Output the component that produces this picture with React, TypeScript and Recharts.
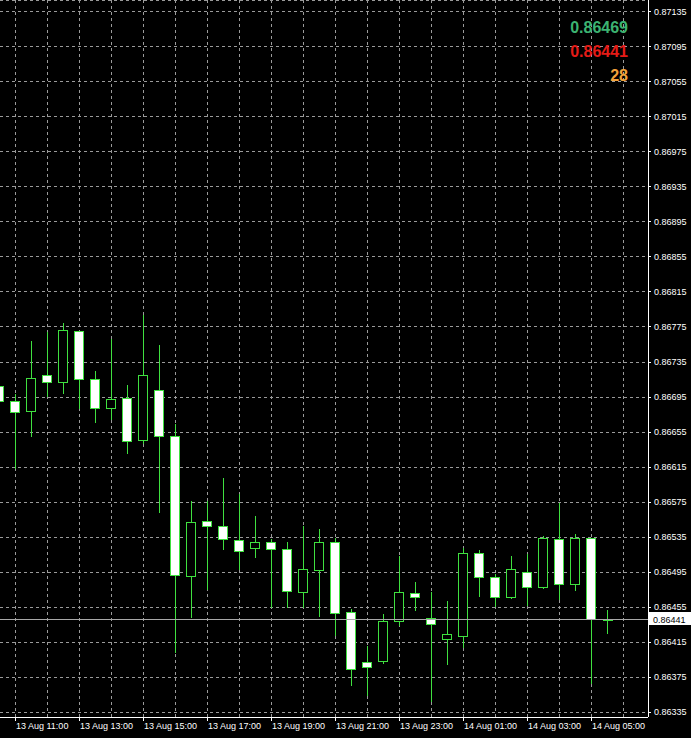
import React from 'react';
import { ComposedChart, Bar, XAxis, YAxis, CartesianGrid, ReferenceLine } from 'recharts';

// EURGBP-style M30 candles, 13 Aug 10:30 .. 14 Aug 05:30
const times = [
  '13 Aug 10:30', '13 Aug 11:00', '13 Aug 11:30', '13 Aug 12:00', '13 Aug 12:30', '13 Aug 13:00',
  '13 Aug 13:30', '13 Aug 14:00', '13 Aug 14:30', '13 Aug 15:00', '13 Aug 15:30', '13 Aug 16:00',
  '13 Aug 16:30', '13 Aug 17:00', '13 Aug 17:30', '13 Aug 18:00', '13 Aug 18:30', '13 Aug 19:00',
  '13 Aug 19:30', '13 Aug 20:00', '13 Aug 20:30', '13 Aug 21:00', '13 Aug 21:30', '13 Aug 22:00',
  '13 Aug 22:30', '13 Aug 23:00', '13 Aug 23:30', '14 Aug 00:00', '14 Aug 00:30', '14 Aug 01:00',
  '14 Aug 01:30', '14 Aug 02:00', '14 Aug 02:30', '14 Aug 03:00', '14 Aug 03:30', '14 Aug 04:00',
  '14 Aug 04:30', '14 Aug 05:00', '14 Aug 05:30',
];

const open = [
  0.86708, 0.86690, 0.86679, 0.86720, 0.86712, 0.86770, 0.86716, 0.86682, 0.86694, 0.86646,
  0.86703, 0.86650, 0.86490, 0.86553, 0.86548, 0.86532, 0.86522, 0.86529, 0.86521, 0.86472,
  0.86497, 0.86529, 0.86449, 0.86392, 0.86393, 0.86439, 0.86471, 0.86442, 0.86418, 0.86422,
  0.86517, 0.86489, 0.86466, 0.86495, 0.86478, 0.86533, 0.86481, 0.86534, 0.86440,
];
const high = [
  0.86709, 0.86700, 0.86760, 0.86770, 0.86781, 0.86771, 0.86726, 0.86762, 0.86710, 0.86790,
  0.86756, 0.86665, 0.86577, 0.86577, 0.86604, 0.86585, 0.86560, 0.86534, 0.86530, 0.86549,
  0.86545, 0.86535, 0.86454, 0.86412, 0.86448, 0.86514, 0.86485, 0.86473, 0.86463, 0.86524,
  0.86521, 0.86494, 0.86514, 0.86517, 0.86537, 0.86575, 0.86540, 0.86535, 0.86453,
];
const low = [
  0.86689, 0.86614, 0.86650, 0.86696, 0.86700, 0.86682, 0.86666, 0.86670, 0.86631, 0.86642,
  0.86564, 0.86404, 0.86444, 0.86476, 0.86521, 0.86498, 0.86512, 0.86455, 0.86455, 0.86455,
  0.86445, 0.86423, 0.86366, 0.86354, 0.86391, 0.86434, 0.86452, 0.86348, 0.86390, 0.86409,
  0.86468, 0.86456, 0.86465, 0.86457, 0.86477, 0.86464, 0.86474, 0.86368, 0.86425,
];
const close = [
  0.86690, 0.86678, 0.86717, 0.86712, 0.86772, 0.86716, 0.86682, 0.86693, 0.86645, 0.86720,
  0.86650, 0.86492, 0.86552, 0.86548, 0.86533, 0.86519, 0.86529, 0.86521, 0.86473, 0.86498,
  0.86529, 0.86448, 0.86384, 0.86386, 0.86439, 0.86472, 0.86466, 0.86436, 0.86424, 0.86517,
  0.86489, 0.86466, 0.86498, 0.86478, 0.86534, 0.86481, 0.86534, 0.86441, 0.86440,
];

const tickLabels = [
  '13 Aug 11:00', '13 Aug 13:00', '13 Aug 15:00', '13 Aug 17:00', '13 Aug 19:00',
  '13 Aug 21:00', '13 Aug 23:00', '14 Aug 01:00', '14 Aug 03:00', '14 Aug 05:00',
];

const yTicks = [
  0.86335, 0.86375, 0.86415, 0.86455, 0.86495, 0.86535, 0.86575, 0.86615, 0.86655, 0.86695,
  0.86735, 0.86775, 0.86815, 0.86855, 0.86895, 0.86935, 0.86975, 0.87015, 0.87055, 0.87095,
  0.87135,
];

const ask = 0.86469;
const bid = 0.86441;
const spread = 28;

const data = times.map((t, i) => ({
  idx: i,
  time: t,
  open: open[i],
  high: high[i],
  low: low[i],
  close: close[i],
  range: [low[i], high[i]],
}));

const tickIdx = tickLabels.map((l) => times.indexOf(l));
const xDomain: [number, number] = [0.0625, 40.5625];
const yDomain: [number, number] = [0.8632929, 0.8714871];
const gridIdx = Array.from({ length: 20 }, (_, k) => 1 + 2 * k); // every hour

const GREEN = '#3fe03f';
const FONT = '"Liberation Sans", Arial, sans-serif';

const Candle = (props: any) => {
  const { x, y, width, height, payload } = props;
  if (x == null || y == null) return null;
  const { open: o, close: c, high: h, low: l } = payload;
  const top = Math.min(y, y + height);
  const hh = Math.abs(height);
  const py = (v: number) => (h === l ? top : top + ((h - v) / (h - l)) * hh);
  const cx = Math.round(x + width / 2) + 0.5;
  const yH = Math.round(py(h)) + 0.5;
  const yL = Math.round(py(l)) + 0.5;
  const yO = Math.round(py(o)) + 0.5;
  const yC = Math.round(py(c)) + 0.5;
  const bTop = Math.min(yO, yC);
  const bBot = Math.max(yO, yC);
  return (
    <g shapeRendering="crispEdges">
      <line x1={cx} x2={cx} y1={yH} y2={yL} stroke={GREEN} strokeWidth={1} />
      {bBot - bTop < 1.5 ? (
        <line x1={cx - 5} x2={cx + 5} y1={bBot} y2={bBot} stroke={GREEN} strokeWidth={1} />
      ) : (
        <rect
          x={cx - 5}
          y={bTop}
          width={9}
          height={bBot - bTop}
          fill={c < o ? '#ffffff' : '#000000'}
          stroke={GREEN}
          strokeWidth={1}
        />
      )}
    </g>
  );
};

const TimeTick = (props: any) => {
  const { x, y, payload } = props;
  return (
    <text x={x + 1} y={y} dy="0.71em" textAnchor="start" fill="#ffffff" fontSize={9} fontFamily={FONT}>
      {times[payload.value]}
    </text>
  );
};

const PriceTag = (props: any) => {
  const vb = props.viewBox || {};
  const right = (vb.x || 0) + (vb.width || 0);
  const yy = Math.round(vb.y || 0);
  return (
    <g>
      <rect x={right + 1} y={yy - 7} width={44} height={13} fill="#ffffff" />
      <text x={right + 5} y={yy + 3.5} fill="#000000" fontSize={9} fontFamily={FONT}>
        {bid.toFixed(5)}
      </text>
    </g>
  );
};

export default function App() {
  const W = 691;
  const H = 738;
  return (
    <div style={{ position: 'relative', width: W, height: H, background: '#000' }}>
      <style>{'body{margin:0;background:#000;}'}</style>
      <ComposedChart width={W} height={H} data={data} margin={{ top: 0, right: 0, bottom: 0, left: 0 }}>
        <CartesianGrid
          stroke="#9a9a9a"
          strokeDasharray="3 3"
          shapeRendering="crispEdges"
          verticalCoordinatesGenerator={({ xAxis, offset }: any) =>
            gridIdx.map((i) =>
              xAxis && typeof xAxis.scale === 'function'
                ? xAxis.scale(i)
                : offset.left + ((i - xDomain[0]) / (xDomain[1] - xDomain[0])) * offset.width
            )
          }
        />
        <XAxis
          type="number"
          dataKey="idx"
          domain={xDomain}
          allowDataOverflow
          ticks={tickIdx}
          interval={0}
          height={21}
          tickSize={4}
          tickMargin={2}
          axisLine={{ stroke: '#ffffff', shapeRendering: 'crispEdges' }}
          tickLine={{ stroke: '#ffffff', shapeRendering: 'crispEdges' }}
          tick={<TimeTick />}
        />
        <YAxis
          orientation="right"
          type="number"
          domain={yDomain}
          allowDataOverflow
          ticks={yTicks}
          interval={0}
          width={43}
          tickSize={3}
          tickMargin={3}
          axisLine={{ stroke: '#ffffff', shapeRendering: 'crispEdges' }}
          tickLine={{ stroke: '#ffffff', shapeRendering: 'crispEdges' }}
          tick={{ fill: '#ffffff', fontSize: 9, fontFamily: FONT }}
          tickFormatter={(v: number) => v.toFixed(5)}
        />
        <ReferenceLine
          y={bid}
          stroke="#a8a8a8"
          strokeWidth={1}
          shapeRendering="crispEdges"
          label={<PriceTag />}
        />
        <Bar dataKey="range" barSize={9} shape={<Candle />} isAnimationActive={false} />
      </ComposedChart>
      <svg width={W} height={H} style={{ position: 'absolute', left: 0, top: 0, pointerEvents: 'none' }}>
        <text x={628} y={33} textAnchor="end" fill="#3cb371" fontSize={16} fontWeight="bold" fontFamily={FONT}>
          {ask.toFixed(5)}
        </text>
        <text x={628} y={57} textAnchor="end" fill="#e41b17" fontSize={16} fontWeight="bold" fontFamily={FONT}>
          {bid.toFixed(5)}
        </text>
        <text x={628} y={81} textAnchor="end" fill="#f2a23a" fontSize={16} fontWeight="bold" fontFamily={FONT}>
          {spread}
        </text>
      </svg>
    </div>
  );
}
